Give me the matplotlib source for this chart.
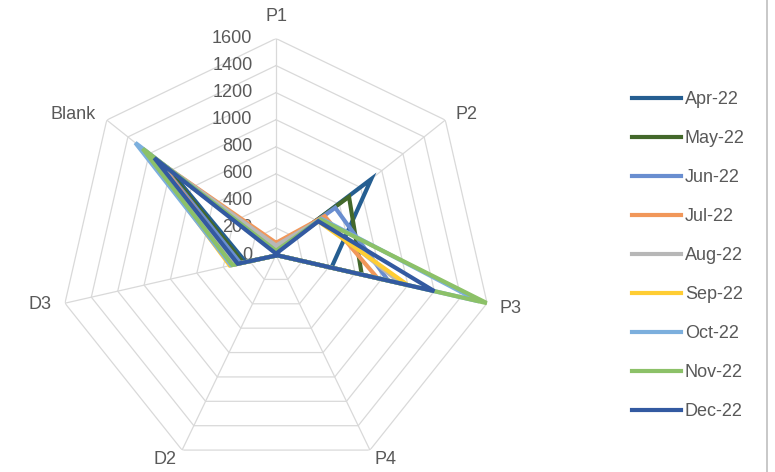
import matplotlib.pyplot as plt
import numpy as np
from matplotlib.lines import Line2D

plt.rcParams['font.family'] = ['Liberation Sans', 'DejaVu Sans']

# Radar categories and monthly values
categories = ["P1", "P2", "P3", "P4", "D2", "D3", "Blank"]
months = ["Apr-22", "May-22", "Jun-22", "Jul-22", "Aug-22",
          "Sep-22", "Oct-22", "Nov-22", "Dec-22"]

apr = [30, 900, 420, 0, 5, 230, 1000]
may = [40, 690, 650, 0, 5, 250, 1050]
jun = [40, 560, 850, 0, 5, 270, 1100]
jul = [90, 460, 770, 0, 5, 300, 1100]
aug = [70, 420, 950, 0, 5, 310, 1120]
sep = [30, 400, 1000, 0, 5, 350, 1250]
oct_ = [30, 430, 1540, 0, 5, 340, 1330]
nov = [30, 420, 1600, 0, 5, 330, 1260]
dec = [10, 400, 1200, 0, 5, 290, 1150]
series = [apr, may, jun, jul, aug, sep, oct_, nov, dec]

colors = ["#255E91", "#43682B", "#698ED0", "#F1975A", "#B7B7B7",
          "#FFCD33", "#7CAFDD", "#8CC168", "#335AA1"]

rmax = 1600
rings = np.arange(200, rmax + 1, 200)
n = len(categories)
angles = np.linspace(0, 2 * np.pi, n, endpoint=False)
closed = np.append(angles, angles[0])

fig = plt.figure(figsize=(7.75, 4.72), dpi=100)
ax = fig.add_axes([0.0768, 0.001, 0.5587, 0.9174], projection="polar")
ax.set_theta_zero_location("N")
ax.set_theta_direction(-1)
ax.set_ylim(0, rmax)
ax.grid(False)
ax.spines["polar"].set_visible(False)
ax.set_xticks([])
ax.set_yticks([])
ax.patch.set_alpha(0)

# heptagon grid
grid_c = "#D9D9D9"
for r in rings:
    ax.plot(closed, [r] * (n + 1), color=grid_c, lw=0.9, zorder=1)
for a in angles:
    ax.plot([a, a], [0, rmax], color=grid_c, lw=0.9, zorder=1)

# value labels along the P1 spoke
for r in np.append(0, rings):
    ax.annotate(str(r), xy=(0, r), xytext=(-17, 0), textcoords="offset points",
                ha="right", va="center", fontsize=13, color="#595959")

# category labels, nudged outward from the outer vertex (points)
label_off = [(0, 16), (15, 4), (17, -4), (11, -7), (-12, -7), (-18, -1), (-24, 4)]
for a, c, off in zip(angles, categories, label_off):
    ax.annotate(c, xy=(a, rmax), xytext=off, textcoords="offset points",
                ha="center", va="center", fontsize=13, color="#595959")

for vals, name, col in zip(series, months, colors):
    ax.plot(closed, vals + vals[:1], color=col, lw=3.0, label=name,
            solid_joinstyle="miter", zorder=3)

ax.set_rmax(rmax)
ax.set_rmin(0)

fig.legend(loc="center left", bbox_to_anchor=(0.795, 0.4587), frameon=False,
           fontsize=13, handlelength=2.7, handletextpad=0.2, labelspacing=1.22,
           labelcolor="#595959")

fig.add_artist(Line2D([767 / 775, 767 / 775], [0, 1], color="#BFBFBF", lw=1.2))

fig.savefig("out.png", dpi=100)
